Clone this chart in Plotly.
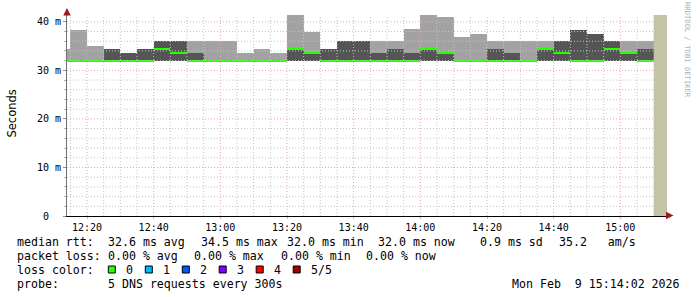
import plotly.graph_objects as go

DAY = "2026-02-09 "

# ---- data (5-minute SmokePing steps, ms) ----
step_start = ["12:10", "12:15", "12:20", "12:25", "12:30", "12:35", "12:40", "12:45", "12:50",
              "12:55", "13:00", "13:05", "13:10", "13:15", "13:20", "13:25", "13:30", "13:35",
              "13:40", "13:45", "13:50", "13:55", "14:00", "14:05", "14:10", "14:15", "14:20",
              "14:25", "14:30", "14:35", "14:40", "14:45", "14:50", "14:55", "15:00", "15:05"]
rtt_min = [32.0, 32.0, 32.0, 32.0, 32.0, 32.0, 32.0, 32.0, 32.0, 32.0, 32.0, 32.0,
           32.0, 32.0, 32.0, 32.0, 32.0, 32.0, 32.0, 32.0, 32.0, 32.0, 32.0, 32.0,
           32.0, 32.0, 32.0, 32.0, 32.0, 32.0, 32.0, 32.0, 32.0, 32.0, 32.0, 32.0]
rtt_p2 = [32.0, 32.0, 32.0, 32.0, 32.0, 32.0, 32.0, 32.0, 32.0, 32.0, 32.0, 32.0,
          32.0, 32.0, 32.0, 32.0, 32.0, 32.0, 32.0, 32.0, 32.0, 32.0, 32.0, 32.0,
          32.0, 32.0, 32.0, 32.0, 32.0, 32.0, 32.0, 32.0, 32.0, 32.0, 32.0, 32.0]
rtt_p4 = [32.0, 32.0, 32.0, 34.4, 33.6, 34.4, 36.0, 36.0, 33.6, 32.0, 32.0, 32.0,
          32.0, 32.0, 34.4, 33.6, 34.4, 36.0, 36.0, 33.6, 34.4, 33.6, 34.4, 33.6,
          32.0, 32.0, 34.4, 33.6, 32.0, 34.4, 36.0, 38.3, 37.5, 36.0, 33.6, 34.4]
rtt_max = [34.4, 38.3, 35.0, 34.4, 33.6, 34.4, 36.0, 36.0, 36.0, 36.0, 36.0, 33.6,
           34.4, 33.6, 41.4, 38.0, 34.4, 36.0, 36.0, 36.0, 36.0, 38.5, 41.4, 41.0,
           36.9, 37.5, 36.0, 36.0, 36.0, 36.0, 36.0, 38.3, 37.5, 36.0, 36.0, 36.0]
rtt_median = [32.0, 32.0, 32.0, 32.0, 32.0, 32.0, 34.4, 33.6, 32.0, 32.0, 32.0, 32.0,
              32.0, 32.0, 34.4, 33.6, 32.0, 32.0, 32.0, 32.0, 32.0, 32.0, 34.4, 33.6,
              32.0, 32.0, 32.0, 32.0, 32.0, 34.4, 33.6, 32.0, 32.0, 34.4, 33.6, 32.0]
nodata_start = "15:10"
nodata_end = "15:14"
x_start, x_end = "12:14", "15:14"
y_top = 41.4

x_tick_labels = ["12:20", "12:40", "13:00", "13:20", "13:40", "14:00", "14:20", "14:40", "15:00"]
y_tick_vals = [0, 10, 20, 30, 40]
y_tick_text = ["0\u00a0\u00a0", "10 m", "20 m", "30 m", "40 m"]

legend_rows = [
    [("median rtt:", 16), ("32.6 ms avg", 107.3), ("34.5 ms max", 200), ("32.0 ms min", 286),
     ("32.0 ms now", 377.3), ("0.9 ms sd", 479.3), ("35.2   am/s", 558.3)],
    [("packet loss:", 16), ("0.00 % avg", 107.3), ("0.00 % max", 193.3), ("0.00 % min", 280),
     ("0.00 % now", 365.7)],
    [("loss color:", 16)],
    [("probe:", 16), ("5 DNS requests every 300s", 107.3)],
]
row_y = [241, 255, 269, 283]
loss_labels = ["0", "1", "2", "3", "4", "5/5"]
loss_colors = ["#26ff00", "#00b8ff", "#0059ff", "#7e00ff", "#ff0000", "#a10000"]
loss_box_x = [108.3, 145.3, 182.3, 219.2, 256.2, 293.2]
stamp = "Mon Feb  9 15:14:02 2026"

# ---- geometry ----
W, H = 697, 297
L, R, T, B = 67, 30, 15, 81
PW, PH = W - L - R, H - T - B

def px(x):
    return (x - L) / PW

def py(y):
    return (H - B - y) / PH

FIVE_MIN = 5 * 60 * 1000
xs = [DAY + t for t in step_start]

fig = go.Figure()
fig.add_trace(go.Bar(x=xs, base=rtt_min, y=[a - b for a, b in zip(rtt_max, rtt_min)],
                     width=FIVE_MIN, offset=0, marker=dict(color="#a2a2a2", line=dict(width=0)),
                     hoverinfo="skip"))
fig.add_trace(go.Bar(x=xs, base=rtt_p2, y=[a - b for a, b in zip(rtt_p4, rtt_p2)],
                     width=FIVE_MIN, offset=0, marker=dict(color="#555555", line=dict(width=0)),
                     hoverinfo="skip"))
MED_H = 0.45
fig.add_trace(go.Bar(x=xs, base=[m - MED_H / 2 for m in rtt_median], y=[MED_H] * len(rtt_median),
                     width=FIVE_MIN, offset=0, marker=dict(color=loss_colors[0], line=dict(width=0)),
                     hoverinfo="skip"))

GRID_MAJOR = "#e8a8a8"
GRID_MINOR = "#c4c4c4"
shapes = []
# grid drawn above the smoke, like rrdtool
for t in step_start[1:]:
    major = t in x_tick_labels
    shapes.append(dict(type="line", xref="x", yref="paper", x0=DAY + t, x1=DAY + t, y0=0, y1=1,
                       layer="above",
                       line=dict(color=GRID_MAJOR if major else GRID_MINOR, width=1, dash="1px,2px")))
for v in range(2, 42, 2):
    major = v % 10 == 0
    shapes.append(dict(type="line", xref="paper", yref="y", x0=0, x1=1, y0=v, y1=v,
                       layer="above",
                       line=dict(color=GRID_MAJOR if major else GRID_MINOR, width=1, dash="1px,2px")))
# no-data region
shapes.append(dict(type="rect", xref="x", yref="paper", x0=DAY + nodata_start, x1=DAY + nodata_end,
                   y0=0, y1=1, layer="above", fillcolor="#c3c3a5", line=dict(width=0)))
# loss color boxes
for bx, c in zip(loss_box_x, loss_colors):
    shapes.append(dict(type="rect", xref="paper", yref="paper", x0=px(bx), x1=px(bx + 7),
                       y0=py(273), y1=py(266), fillcolor=c, line=dict(color="black", width=1)))

MONO = "DejaVu Sans Mono"
ARROW = "#9a1c1c"
ann = []
for row, yy in zip(legend_rows, row_y):
    for text, x0 in row:
        ann.append(dict(xref="paper", yref="paper", x=px(x0 - 1.5), y=py(yy + 1), xanchor="left",
                        yanchor="middle", showarrow=False, text=text.replace(" ", "\u00a0"),
                        font=dict(family=MONO, size=11.6, color="black")))
for bx, lab in zip(loss_box_x, loss_labels):
    ann.append(dict(xref="paper", yref="paper", x=px(bx + 16), y=py(270), xanchor="left",
                    yanchor="middle", showarrow=False, text=lab,
                    font=dict(family=MONO, size=11.6, color="black")))
ann.append(dict(xref="paper", yref="paper", x=px(681.5), y=py(284), xanchor="right",
                yanchor="middle", showarrow=False, text=stamp.replace(" ", "\u00a0"),
                font=dict(family=MONO, size=11.6, color="black")))
# y axis title
ann.append(dict(xref="paper", yref="paper", x=px(11), y=py(113.5), xanchor="center",
                yanchor="middle", showarrow=False, text="Seconds", textangle=-90,
                font=dict(family="DejaVu Sans", size=11.5, color="black")))
# watermark
ann.append(dict(xref="paper", yref="paper", x=px(688), y=py(50), xanchor="center",
                yanchor="middle", showarrow=False, text="RRDTOOL / TOBI OETIKER", textangle=90,
                font=dict(family=MONO, size=7.2, color="#b0b0b0")))
# axis arrows
ann.append(dict(xref="paper", yref="paper", x=px(67), y=py(8), text="", showarrow=True,
                ax=0, ay=7, arrowhead=2, arrowsize=1.5, arrowwidth=1, arrowcolor=ARROW))
ann.append(dict(xref="paper", yref="paper", x=px(673.5), y=py(215.5), text="", showarrow=True,
                ax=-7, ay=0, arrowhead=2, arrowsize=1.5, arrowwidth=1, arrowcolor=ARROW))

fig.update_layout(
    width=W, height=H, margin=dict(l=L, r=R, t=T, b=B, pad=0),
    paper_bgcolor="white", plot_bgcolor="white", showlegend=False,
    barmode="overlay", bargap=0,
    shapes=shapes, annotations=ann,
    xaxis=dict(type="date", range=[DAY + x_start, DAY + x_end], showgrid=False, zeroline=False,
               tickvals=[DAY + t for t in x_tick_labels], ticktext=x_tick_labels,
               ticks="outside", ticklen=2, tickcolor=GRID_MAJOR,
               showline=True, linecolor="black", linewidth=1,
               tickfont=dict(family=MONO, size=10, color="black")),
    yaxis=dict(range=[0, y_top], showgrid=False, zeroline=False,
               tickvals=y_tick_vals, ticktext=y_tick_text,
               ticks="outside", ticklen=3, tickcolor="#909090",
               minor=dict(ticks="outside", ticklen=2, dtick=2, tickcolor="#b0b0b0", showgrid=False),
               showline=True, linecolor="#707070", linewidth=1,
               tickfont=dict(family=MONO, size=10, color="black")),
)

fig.write_html("out.html")
